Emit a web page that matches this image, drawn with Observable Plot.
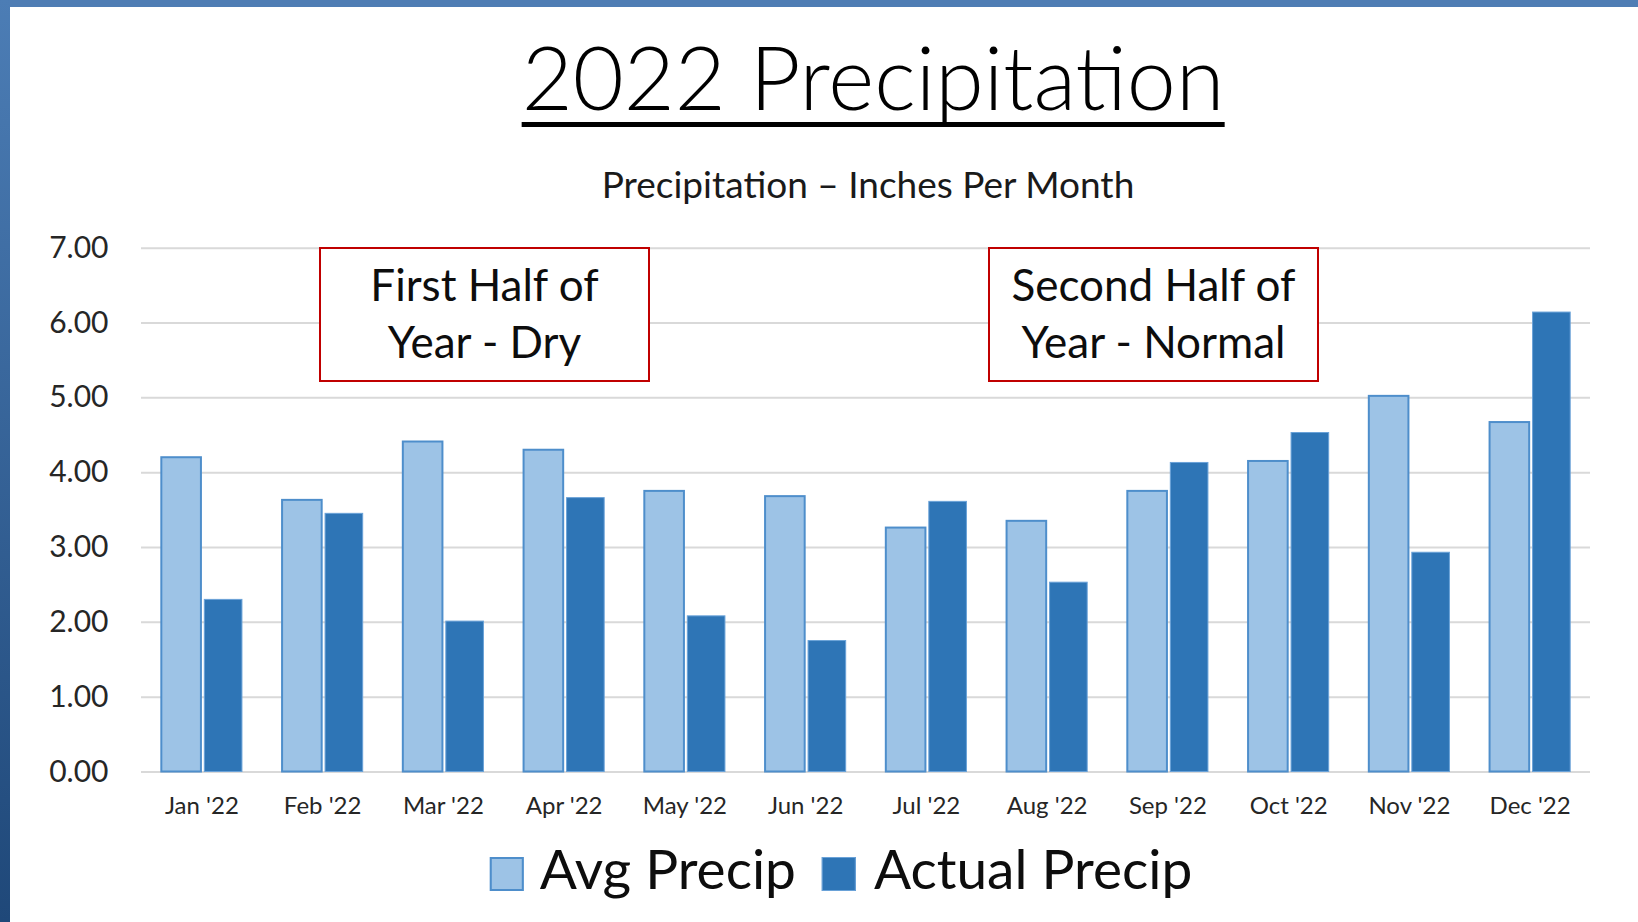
<!DOCTYPE html>
<html>
<head>
<meta charset="utf-8">
<script src="https://cdn.jsdelivr.net/npm/d3@7"></script>
<script src="https://cdn.jsdelivr.net/npm/@observablehq/plot@0.6"></script>
<style>
  html, body { margin: 0; padding: 0; background: #ffffff; }
  #root { position: relative; width: 1638px; height: 922px; background: #ffffff; overflow: hidden; font-family: Lato, "Open Sans", sans-serif; }
  #topband { position: absolute; left: 0; top: 0; width: 1638px; height: 7px; background: #4f7db4; }
  #leftband { position: absolute; left: 0; top: 0; width: 10px; height: 922px; background: linear-gradient(to bottom, #4c7db5, #1f4879); }
  #title { position: absolute; top: 32px; left: 873px; transform: translateX(-50%); font-size: 88px; font-weight: 300; line-height: 88px; color: #000; white-space: nowrap; border-bottom: 5px solid #000; padding-bottom: 2px; }
  #subtitle { position: absolute; top: 165px; left: 868px; transform: translateX(-50%); font-size: 37px; line-height: 37px; color: #1a1a1a; white-space: nowrap; }
  #chart { position: absolute; left: 0; top: 200px; }
  .note { position: absolute; box-sizing: border-box; border: 2px solid #c00000; background: #fff; text-align: center; font-size: 44px; line-height: 57.6px; padding-top: 6.9px; color: #0d0d0d; white-space: nowrap; }
  #legend { position: absolute; top: 841px; left: 841px; transform: translateX(-50%); display: flex; align-items: center; white-space: nowrap; }
  .sw { box-sizing: border-box; width: 34px; height: 34px; margin-top: 11px; }
  .lt { font-size: 55px; line-height: 55px; color: #0d0d0d; }
</style>
</head>
<body>
<div id="root">
  <div id="topband"></div>
  <div id="leftband"></div>
  <div id="title"></div>
  <div id="subtitle"></div>
  <div id="chart"></div>
  <div id="legend"></div>
</div>
<script>
const months = ["Jan '22", "Feb '22", "Mar '22", "Apr '22", "May '22", "Jun '22", "Jul '22", "Aug '22", "Sep '22", "Oct '22", "Nov '22", "Dec '22"];
const avgPrecip = [4.20, 3.63, 4.41, 4.30, 3.75, 3.68, 3.26, 3.35, 3.75, 4.15, 5.02, 4.67];
const actualPrecip = [2.30, 3.45, 2.01, 3.66, 2.08, 1.75, 3.61, 2.53, 4.13, 4.53, 2.93, 6.14];
const yTicks = [0, 1, 2, 3, 4, 5, 6, 7];
const seriesNames = ["Avg Precip", "Actual Precip"];
const seriesFill = ["#9dc3e6", "#2e75b6"];
const seriesStroke = ["#4e8ecb", "#6aa2d8"];
const titleText = "2022 Precipitation";
const subtitleText = "Precipitation \u2013 Inches Per Month";
const noteLines = [["First Half of", "Year - Dry"], ["Second Half of", "Year - Normal"]];

const avgData = months.map((m, i) => ({month: m, value: avgPrecip[i]}));
const actualData = months.map((m, i) => ({month: m, value: actualPrecip[i]}));

document.getElementById("title").textContent = titleText;
document.getElementById("subtitle").textContent = subtitleText;

const svgTop = 200;
const chart = Plot.plot({
  width: 1638,
  height: 640,
  marginLeft: 141,
  marginRight: 48,
  marginTop: 47.7,
  marginBottom: 68.5,
  style: {fontFamily: "Lato, 'Open Sans', sans-serif", color: "#262626", background: "transparent", overflow: "visible"},
  x: {domain: months, paddingInner: 0.32, paddingOuter: 0.16, round: false},
  y: {domain: [0, 7]},
  marks: [
    Plot.gridY(yTicks, {stroke: "#d9d9d9", strokeOpacity: 1, strokeWidth: 2}),
    Plot.barY(avgData, {x: "month", y: "value", fill: seriesFill[0], stroke: seriesStroke[0], strokeWidth: 2, insetLeft: 1, insetRight: 41.5}),
    Plot.barY(actualData, {x: "month", y: "value", fill: seriesFill[1], stroke: seriesStroke[1], strokeWidth: 1, insetLeft: 44, insetRight: 0.5}),
    Plot.axisX({tickSize: 0, tickPadding: 25, fontSize: 24, label: null}),
    Plot.axisY(yTicks, {tickSize: 0, tickPadding: 33, fontSize: 30, tickFormat: d => d.toFixed(2), label: null})
  ]
});
document.getElementById("chart").appendChild(chart);

// annotation boxes, anchored to the top of the y scale
const yTop = chart.scale("y").apply(7) + svgTop - 1;
const noteBoxes = [{left: 319, width: 331}, {left: 988, width: 331}];
noteLines.forEach((lines, i) => {
  const d = document.createElement("div");
  d.className = "note";
  d.style.left = noteBoxes[i].left + "px";
  d.style.width = noteBoxes[i].width + "px";
  d.style.top = yTop + "px";
  d.style.height = "135px";
  lines.forEach(t => {
    const l = document.createElement("div");
    l.textContent = t;
    d.appendChild(l);
  });
  document.getElementById("root").appendChild(d);
});

// legend
const legend = document.getElementById("legend");
seriesNames.forEach((name, i) => {
  const sw = document.createElement("div");
  sw.className = "sw";
  sw.style.background = seriesFill[i];
  sw.style.border = i === 0 ? "2px solid " + seriesStroke[0] : "1px solid " + seriesStroke[1];
  if (i === 1) sw.style.marginLeft = "26px";
  const t = document.createElement("div");
  t.className = "lt";
  t.style.marginLeft = i === 0 ? "16px" : "18px";
  t.textContent = name;
  legend.appendChild(sw);
  legend.appendChild(t);
});
</script>
</body>
</html>
